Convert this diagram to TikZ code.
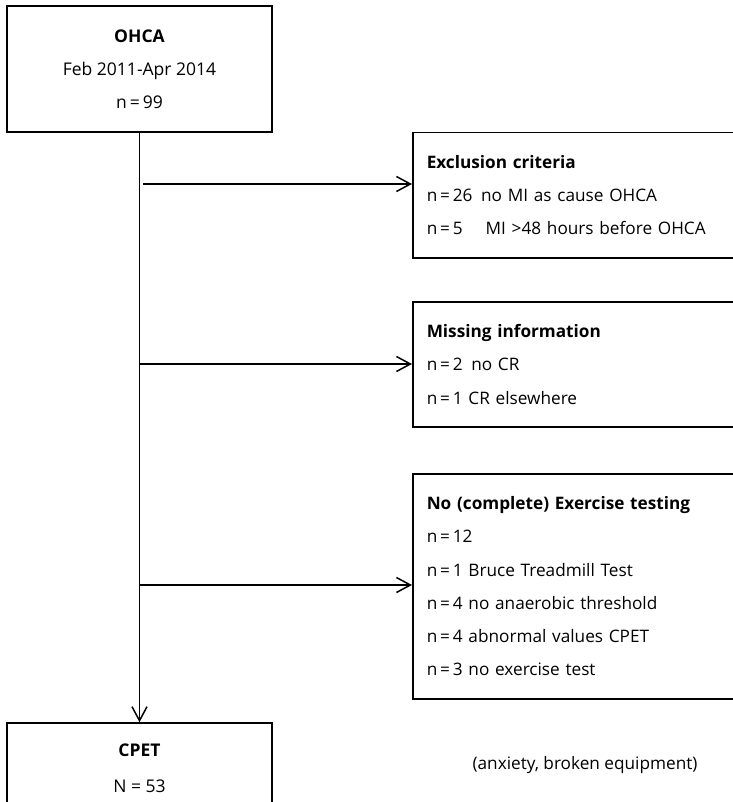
\documentclass[tikz,border=0pt]{standalone}
\usepackage{fontspec}
\setmainfont{Open Sans}
\usetikzlibrary{arrows.meta,calc}

\begin{document}
\begin{tikzpicture}[x=1pt,y=-1pt,
  box/.style={draw,line width=1.5pt,inner sep=0pt,align=center,minimum width=265,font=\fontsize{17.5}{33}\selectfont},
  sidebox/.style={draw,line width=1.5pt,anchor=north west,minimum width=340,inner xsep=14pt,text width=312,align=left,font=\fontsize{17.2}{33.3}\selectfont},
  flow/.style={line width=1.5pt,-{Straight Barb[length=14pt,width=15pt,line width=1.5pt]}}]
\useasboundingbox (0,0) rectangle (732,802);

\node[box,minimum height=126] (ohca) at (139.5,69) {\textbf{OHCA}\\Feb 2011-Apr 2014\\n\,=\,99};
\node[box,minimum height=90,font=\fontsize{17.5}{36}\selectfont] (cpet) at (139.5,768) {\textbf{CPET}\\N = 53};

\node[sidebox,minimum height=125] (excl) at (412,132) {\textbf{Exclusion criteria}\\n\,=\,26\enspace no MI as cause OHCA\\n\,=\,5\quad\ MI >48 hours before OHCA};
\node[sidebox,minimum height=125] (miss) at (412,301) {\textbf{Missing information}\\n\,=\,2\enspace no CR\\n\,=\,1 CR elsewhere};
\node[sidebox,minimum height=225] (nocpet) at (412,473) {\textbf{No (complete) Exercise testing}\\n\,=\,12\\n\,=\,1 Bruce Treadmill Test\\n\,=\,4 no anaerobic threshold\\n\,=\,4 abnormal values CPET\\n\,=\,3 no exercise test};
\node[font=\fontsize{17.2}{33}\selectfont] (reason) at (585,765) {(anxiety, broken equipment)};

\coordinate (j1) at (143,184);
\coordinate (j2) at (139.5,364);
\coordinate (j3) at (139.5,585);

\draw[flow] (ohca.south) -- (cpet.north);
\draw[flow] (j1) -- (j1 -| excl.west);
\draw[flow] (j2) -- (j2 -| miss.west);
\draw[flow] (j3) -- (j3 -| nocpet.west);

\end{tikzpicture}
\end{document}
